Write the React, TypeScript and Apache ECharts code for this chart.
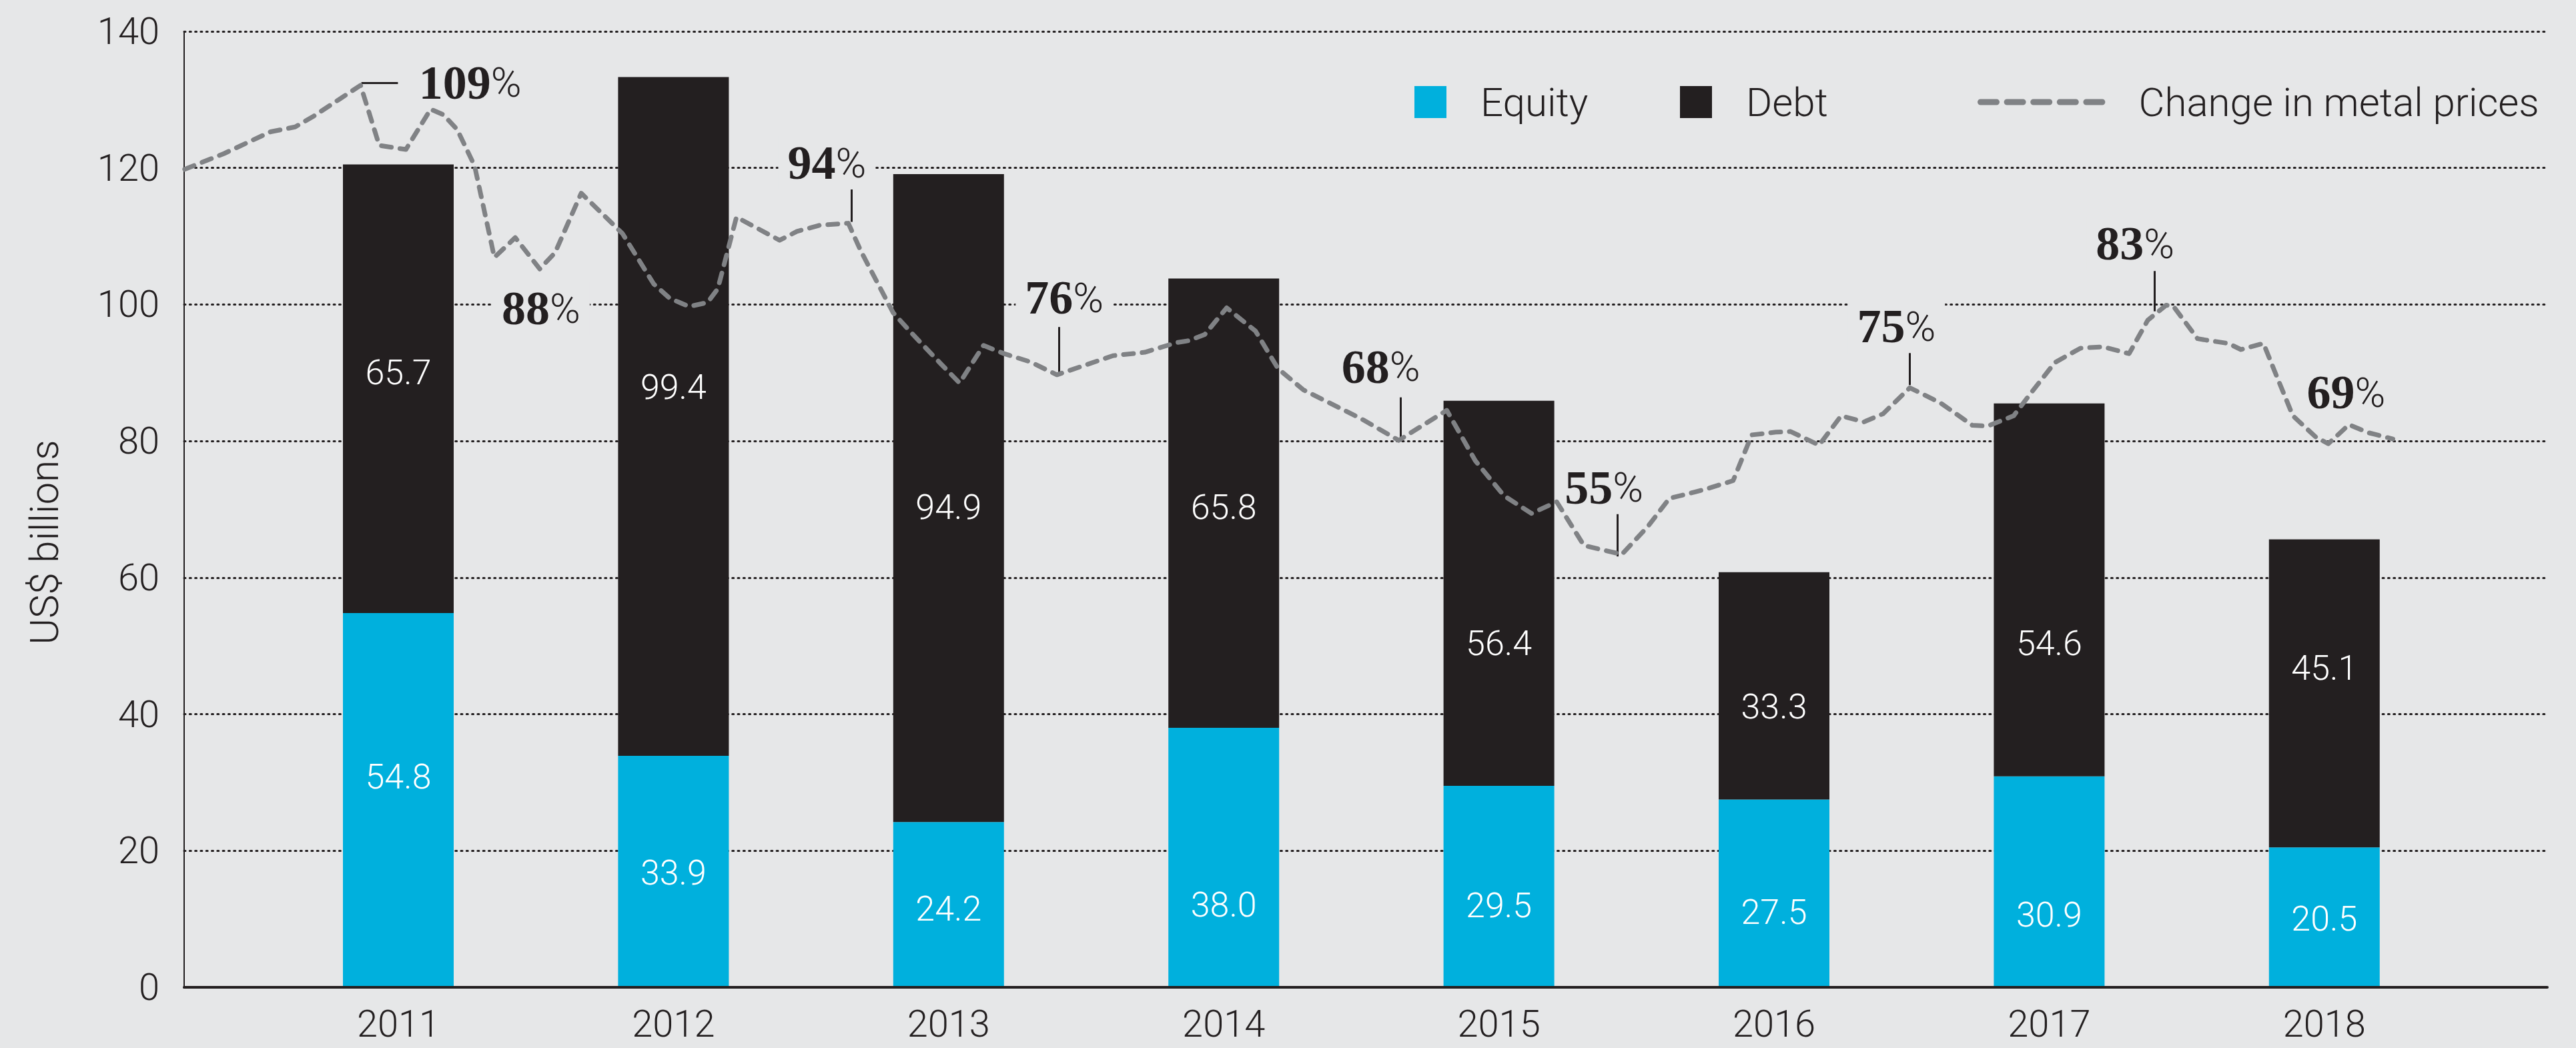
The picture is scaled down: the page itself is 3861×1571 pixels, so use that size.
import React, { useEffect, useRef } from 'react';
import * as echarts from 'echarts';

// ---------- data ----------
const years = ['2011', '2012', '2013', '2014', '2015', '2016', '2017', '2018'];
const equity = [54.8, 33.9, 24.2, 38.0, 29.5, 27.5, 30.9, 20.5];
const debt = [65.7, 99.4, 94.9, 65.8, 56.4, 33.3, 54.6, 45.1];
const yTicks = [0, 20, 40, 60, 80, 100, 120, 140];

// metal price line: position on the year scale, value on the US$ billions scale
const priceX = [
  2010.212, 2010.355, 2010.525, 2010.614, 2010.682, 2010.852, 2010.92, 2011.017, 2011.107, 2011.153,
  2011.204, 2011.267, 2011.339, 2011.415, 2011.504, 2011.56, 2011.655, 2011.805, 2011.919, 2011.977,
  2012.048, 2012.115, 2012.152, 2012.22, 2012.377, 2012.44, 2012.523, 2012.627, 2012.673, 2012.79,
  2012.86, 2012.964, 2013.032, 2013.119, 2013.194, 2013.289, 2013.386, 2013.473, 2013.59, 2013.706,
  2013.82, 2013.866, 2013.924, 2014.004, 2014.109, 2014.191, 2014.283, 2014.492, 2014.63, 2014.805,
  2014.909, 2015.013, 2015.113, 2015.205, 2015.304, 2015.442, 2015.537, 2015.615, 2015.743, 2015.847,
  2015.915, 2016.002, 2016.056, 2016.16, 2016.24, 2016.323, 2016.393, 2016.49, 2016.601, 2016.718,
  2016.774, 2016.868, 2016.936, 2017.018, 2017.111, 2017.193, 2017.288, 2017.356, 2017.423, 2017.45,
  2017.537, 2017.566, 2017.649, 2017.695, 2017.777, 2017.824, 2017.884, 2017.967, 2018.013, 2018.088,
  2018.161, 2018.248,
];
const priceIndex = [
  119.8, 122.1, 125.3, 126.0, 127.6, 132.1, 123.3, 122.7, 128.6, 127.8,
  125.6, 120.3, 106.9, 109.8, 105.2, 107.6, 116.3, 110.4, 103.0, 100.9,
  99.7, 100.3, 102.3, 112.8, 109.4, 110.7, 111.6, 111.9, 107.8, 98.8,
  95.7, 91.3, 88.5, 94.0, 92.8, 91.6, 89.7, 90.9, 92.5, 93.0,
  94.4, 94.7, 95.6, 99.5, 96.1, 90.6, 87.5, 83.3, 80.1, 84.5,
  77.1, 72.0, 69.4, 71.1, 64.7, 63.4, 67.5, 71.6, 72.9, 74.2,
  80.9, 81.3, 81.4, 79.4, 83.7, 82.8, 84.0, 87.8, 85.6, 82.3,
  82.2, 83.7, 87.3, 91.5, 93.6, 93.8, 92.8, 97.7, 99.9, 99.7,
  95.0, 94.8, 94.3, 93.4, 94.3, 89.6, 83.7, 80.6, 79.6, 82.4,
  81.2, 80.3,
];

// percentage callouts
const calloutPct = ['109', '88', '94', '76', '68', '55', '75', '83', '69'];
const calloutX = [2011.029, 2011.509, 2012.549, 2013.413, 2014.565, 2015.377, 2016.441, 2017.31, 2018.078];
const calloutV = [132.5, 99.45, 120.75, 101.0, 90.9, 73.2, 96.8, 108.9, 87.1];
// leader ticks [x1, v1, x2, v2]
const leaders = [
  [2010.855, 132.5, 2010.988, 132.5],
  [2012.639, 117.3, 2012.639, 112.1],
  [2013.393, 96.7, 2013.393, 90.1],
  [2014.637, 86.4, 2014.637, 80.1],
  [2015.425, 69.9, 2015.425, 63.1],
  [2016.49, 93.5, 2016.49, 88.2],
  [2017.38, 104.9, 2017.38, 99.0],
];

// ---------- style / layout ----------
const BG = '#e6e7e8';
const INK = '#231f20';
const CYAN = '#00b0dd';
const GREY = '#808285';
const SANS = 'Roboto, "Liberation Sans", sans-serif';
const SERIF = '"Liberation Serif", "DejaVu Serif", serif';
const equityLabelDy = [-35, 2, 6, 71, 28, 28, 50, 2];
const debtLabelDy = [-24, -44, 14, 6, 75, 31, 80, -38];

export default function App() {
  const ref = useRef<HTMLDivElement>(null);

  useEffect(() => {
    document.body.style.margin = '0';
    document.body.style.background = BG;
    const chart = echarts.init(ref.current!, null, { renderer: 'svg' });

    const labelCommon = {
      show: true,
      position: 'inside',
      color: '#ffffff',
      fontFamily: SANS,
      fontWeight: 300,
      fontSize: 52,
    };

    const legendText = { color: INK, fontFamily: SANS, fontWeight: 300, fontSize: 60 };

    const option: any = {
      animation: false,
      backgroundColor: BG,
      grid: [
        { left: 276, right: 43, top: 47, bottom: 91, containLabel: false },
        { left: 390.8, right: 171, top: 47, bottom: 91, containLabel: false },
      ],
      xAxis: [
        {
          type: 'value',
          gridIndex: 0,
          min: 2010.21,
          max: 2018.81,
          z: 10,
          axisLine: { show: true, lineStyle: { color: INK, width: 4 } },
          axisTick: { show: false },
          splitLine: { show: false },
          axisLabel: { show: false },
        },
        {
          type: 'category',
          gridIndex: 1,
          data: years,
          axisLine: { show: false },
          axisTick: { show: false },
          splitLine: { show: false },
          axisLabel: {
            color: INK,
            fontFamily: SANS,
            fontWeight: 300,
            fontSize: 56,
            lineHeight: 56,
            margin: 27,
          },
        },
      ],
      yAxis: [
        {
          type: 'value',
          gridIndex: 0,
          min: 0,
          max: 140,
          interval: 20,
          axisLine: { show: true, lineStyle: { color: INK, width: 2 } },
          axisTick: { show: false },
          axisLabel: {
            color: INK,
            fontFamily: SANS,
            fontWeight: 300,
            fontSize: 56,
            margin: 37,
            formatter: (v: number) => (yTicks.includes(v) ? String(v) : ''),
          },
          splitLine: {
            show: true,
            lineStyle: { color: INK, width: 3, type: [2, 6.3], cap: 'round' },
          },
        },
        {
          type: 'value',
          gridIndex: 1,
          min: 0,
          max: 140,
          interval: 20,
          show: false,
          splitLine: { show: false },
        },
      ],
      legend: [
        {
          data: ['Equity'],
          left: 2115,
          top: 118,
          icon: 'rect',
          itemWidth: 48,
          itemHeight: 48,
          selectedMode: false,
          textStyle: { ...legendText, padding: [0, 0, 0, 46] },
        },
        {
          data: ['Debt'],
          left: 2513,
          top: 118,
          icon: 'rect',
          itemWidth: 48,
          itemHeight: 48,
          selectedMode: false,
          textStyle: { ...legendText, padding: [0, 0, 0, 46] },
        },
        {
          data: ['Change in metal prices'],
          left: 2959,
          top: 118,
          itemWidth: 198,
          itemHeight: 48,
          selectedMode: false,
          itemStyle: { opacity: 0 },
          lineStyle: { color: GREY, width: 9, type: [24, 15.6], cap: 'round', opacity: 1 },
          textStyle: { ...legendText, padding: [0, 0, 0, 34] },
        },
      ],
      graphic: [
        {
          type: 'text',
          x: 66,
          y: 813,
          rotation: Math.PI / 2,
          style: {
            text: 'US$ billions',
            fill: INK,
            fontFamily: SANS,
            fontWeight: 300,
            fontSize: 60,
            align: 'center',
            verticalAlign: 'middle',
          },
        },
      ],
      series: [
        {
          type: 'bar',
          name: 'Equity',
          stack: 'total',
          xAxisIndex: 1,
          yAxisIndex: 1,
          barWidth: 166,
          itemStyle: { color: CYAN },
          label: { ...labelCommon, formatter: (p: any) => Number(p.value).toFixed(1) },
          data: equity.map((v, i) => ({ value: v, label: { offset: [0, equityLabelDy[i]] } })),
        },
        {
          type: 'bar',
          name: 'Debt',
          stack: 'total',
          xAxisIndex: 1,
          yAxisIndex: 1,
          barWidth: 166,
          itemStyle: { color: INK },
          label: { ...labelCommon, formatter: (p: any) => Number(p.value).toFixed(1) },
          data: debt.map((v, i) => ({ value: v, label: { offset: [0, debtLabelDy[i]] } })),
        },
        {
          type: 'line',
          name: 'Change in metal prices',
          xAxisIndex: 0,
          yAxisIndex: 0,
          symbol: 'none',
          z: 5,
          itemStyle: { color: GREY },
          lineStyle: { color: GREY, width: 7, type: [15, 13], cap: 'round', join: 'round' },
          data: priceX.map((x, i) => [x, priceIndex[i]]),
          markLine: {
            silent: true,
            symbol: ['none', 'none'],
            label: { show: false },
            lineStyle: { color: INK, width: 3, type: 'solid' },
            data: leaders.map((l) => [{ coord: [l[0], l[1]] }, { coord: [l[2], l[3]] }]),
          },
          markPoint: {
            silent: true,
            symbol: 'circle',
            symbolSize: 1,
            itemStyle: { color: 'rgba(0,0,0,0)' },
            data: calloutPct.map((t, i) => ({
              coord: [calloutX[i], calloutV[i]],
              label: {
                show: true,
                position: i === 0 ? 'right' : 'inside',
                distance: 0,
                formatter: `{n|${t}}{p|%}`,
                backgroundColor: i === 0 ? 'transparent' : BG,
                padding: [4, 14, 4, 14],
                rich: {
                  n: { fontFamily: SERIF, fontWeight: 'bold', fontSize: 72, color: INK },
                  p: { fontFamily: SANS, fontWeight: 300, fontSize: 62, color: INK },
                },
              },
            })),
          },
        },
      ],
    };

    chart.setOption(option);
    return () => chart.dispose();
  }, []);

  return (
    <div
      ref={ref}
      style={{ position: 'fixed', left: 0, top: 0, width: '3861px', height: '1571px', background: BG }}
    />
  );
}
